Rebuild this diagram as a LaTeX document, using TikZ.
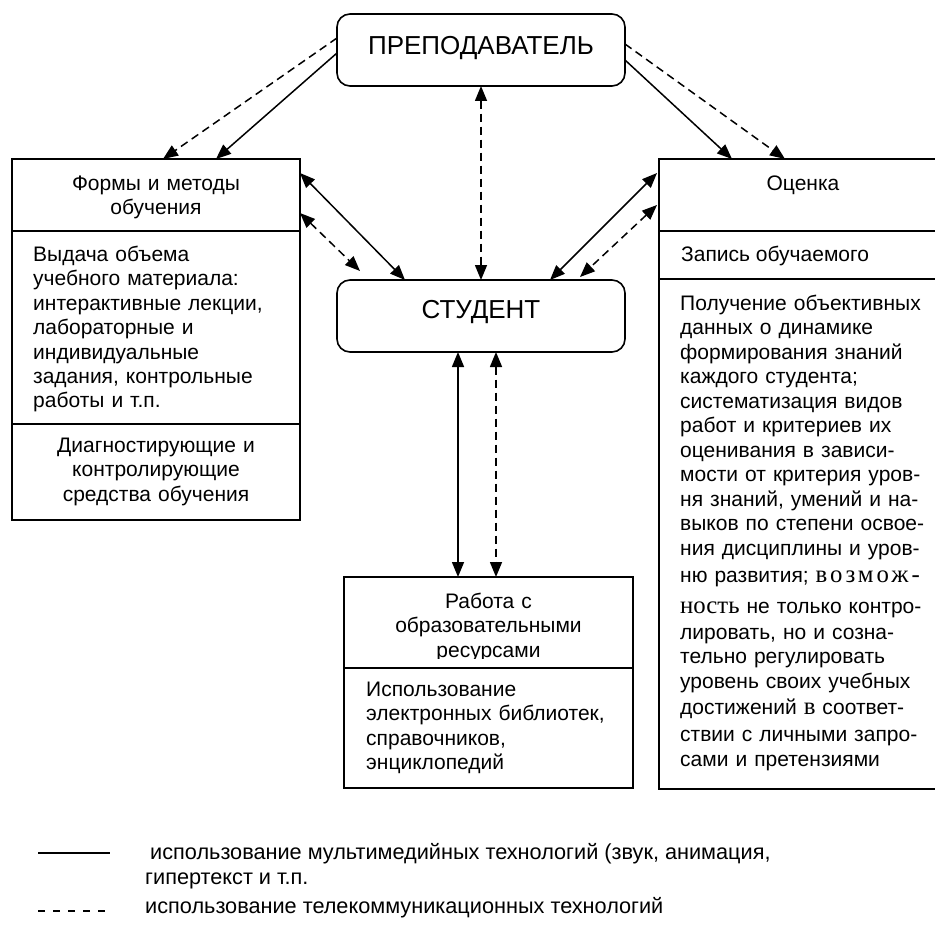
\documentclass[tikz,border=0pt]{standalone}
\usepackage{fontspec}
\setmainfont{Liberation Sans}
\newfontfamily\serifrm[Scale=1.18]{Liberation Serif}
\newfontfamily\serifwide[Scale=1.18,LetterSpace=12]{Liberation Serif}
\usetikzlibrary{arrows.meta}
\begin{document}
\begin{tikzpicture}[x=1pt,y=-1pt,
  box/.style={draw, line width=1.6pt, inner sep=0pt, outer sep=0pt},
  rbox/.style={box, rounded corners=13pt},
  ln/.style={line width=1.5pt},
  dl/.style={line width=1.5pt, dash pattern=on 8pt off 5pt},
  both/.style={{Triangle[length=15pt,width=12pt]}-{Triangle[length=15pt,width=12pt]}},
  one/.style={-{Triangle[length=15pt,width=12pt]}},
  body/.style={inner sep=0pt, font=\fontsize{21}{24.5}\selectfont},
  big/.style={inner sep=0pt, font=\fontsize{26}{30}\selectfont},
  legtext/.style={inner sep=0pt, font=\fontsize{21.7}{24}\selectfont}
]
\useasboundingbox (0,0) rectangle (935,931);

% boxes
\node[rbox, anchor=north west, minimum width=288pt, minimum height=72pt] (prep) at (337,14) {};
\node[rbox, anchor=north west, minimum width=288pt, minimum height=72pt] (stud) at (337,280) {};
\node[box, anchor=north west, minimum width=288pt, minimum height=361pt] (forms) at (12,159) {};
\node[box, anchor=north west, minimum width=288pt, minimum height=630pt] (eval) at (659,159) {};
\node[box, anchor=north west, minimum width=289pt, minimum height=211pt] (res) at (344,577) {};

% dividers
\draw[line width=1.6pt] ([yshift=-72pt]forms.north west) -- ([yshift=-72pt]forms.north east);
\draw[line width=1.6pt] ([yshift=-265pt]forms.north west) -- ([yshift=-265pt]forms.north east);
\draw[line width=1.6pt] ([yshift=-72pt]eval.north west) -- ([yshift=-72pt]eval.north east);
\draw[line width=1.6pt] ([yshift=-120pt]eval.north west) -- ([yshift=-120pt]eval.north east);
\draw[line width=1.6pt] ([yshift=-91pt]res.north west) -- ([yshift=-91pt]res.north east);

% texts
\node[big, anchor=base] (prept) at (481,55) {ПРЕПОДАВАТЕЛЬ};
\node[big, anchor=base] (studt) at (481,318) {СТУДЕНТ};

\node[body, anchor=base, text width=280pt, align=center] (formsh) at (156,190) {Формы и методы\\обучения};
\node[body, anchor=base west, text width=265pt, align=left] (formsb) at (33,261) {Выдача объема\\учебного материала:\\интерактивные лекции,\\лабораторные и\\индивидуальные\\задания, контрольные\\работы и т.п.};
\node[body, anchor=base, text width=280pt, align=center] (formsd) at (156,452) {Диагностирующие и\\контролирующие\\средства обучения};

\node[body, anchor=base] (evalh) at (803,190) {Оценка};
\node[body, anchor=base west] (evalr) at (681,261) {Запись обучаемого};
\node[body, anchor=base west, text width=262pt, align=left] (evalb) at (680,310) {Получение объективных\\данных о динамике\\формирования знаний\\каждого студента;\\систематизация видов\\работ и критериев их\\оценивания в зависи-\\мости от критерия уров-\\ня знаний, умений и на-\\выков по степени освое-\\ния дисциплины и уров-\\[2.5pt]ню развития; {\serifwide возмож-}\\[7.5pt]{\serifrm ность} не только контро-\\[0.5pt]лировать, но и созна-\\[0.5pt]тельно регулировать\\[0.5pt]уровень своих учебных\\[1.5pt]достижений {\serifrm в} соответ-\\[2.5pt]ствии с личными запро-\\[0.5pt]сами и претензиями};

\begin{scope}
\clip (344,577) rectangle (633,658);
\node[body, anchor=base, text width=280pt, align=center] (resh) at (488.5,608) {Работа с\\образовательными\\ресурсами};
\end{scope}
\node[body, anchor=base west, text width=262pt, align=left] (resb) at (366,696) {Использование\\электронных библиотек,\\справочников,\\энциклопедий};

% connectors
\draw[dl,one] ([yshift=12pt]prep.west) -- ([xshift=7pt]forms.north);
\draw[ln,one] ([yshift=-3pt]prep.west) -- ([xshift=60pt]forms.north);
\draw[ln,one] ([yshift=-10pt]prep.east) -- ([xshift=-71pt]eval.north);
\draw[dl,one] ([yshift=6pt]prep.east) -- ([xshift=-18pt]eval.north);
\draw[dl,both] (prep.south) -- (stud.north);
\draw[ln,both] ([yshift=-14pt]forms.north east) -- ([xshift=68pt]stud.north west);
\draw[dl,both] ([yshift=-54pt]forms.north east) -- ([xshift=23pt,yshift=9pt]stud.north west);
\draw[ln,both] ([xshift=-2pt,yshift=-14pt]eval.north west) -- ([xshift=69pt]stud.north);
\draw[dl,both] ([xshift=-2pt,yshift=-46pt]eval.north west) -- ([xshift=99pt,yshift=3pt]stud.north);
\draw[ln,both] ([xshift=-23pt]stud.south) -- ([xshift=-30.5pt]res.north);
\draw[dl,both] ([xshift=15pt]stud.south) -- ([xshift=7.5pt]res.north);

% legend
\coordinate (la) at (38,853);
\coordinate (lb) at (110,853);
\coordinate (lc) at (38,911);
\coordinate (ld) at (107,911);
\draw[ln] (la) -- (lb);
\draw[line width=1.5pt, dash pattern=on 7pt off 8pt] (lc) -- (ld);
\node[legtext, anchor=base west] (lt1) at (150,859) {использование мультимедийных технологий (звук, анимация,};
\node[legtext, anchor=base west] (lt2) at (145,884) {гипертекст и т.п.};
\node[legtext, anchor=base west] (lt3) at (145,913) {использование телекоммуникационных технологий};
\end{tikzpicture}
\end{document}
